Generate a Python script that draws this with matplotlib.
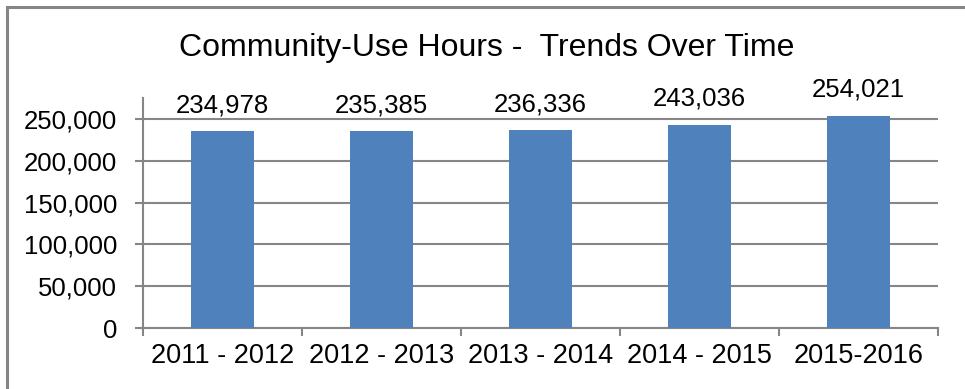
import matplotlib.pyplot as plt
from matplotlib.lines import Line2D

categories = ["2011 - 2012", "2012 - 2013", "2013 - 2014", "2014 - 2015", "2015-2016"]
hours = [234978, 235385, 236336, 243036, 254021]
yticks = [0, 50000, 100000, 150000, 200000, 250000]

plt.rcParams["font.family"] = ["Liberation Sans", "DejaVu Sans"]

fig = plt.figure(figsize=(9.65, 3.89), dpi=100)
ax = fig.add_axes([143 / 965, 61 / 389, (938 - 143) / 965, (291 - 61) / 389])

x = list(range(len(categories)))
ax.bar(x, hours, width=0.4, color="#4F81BD", zorder=3)

for xi, v in zip(x, hours):
    ax.annotate(f"{v:,}", (xi, v), xytext=(0, 10), textcoords="offset points",
                ha="center", va="bottom", fontsize=18.5)

ax.set_xlim(-0.5, len(categories) - 0.5)
ax.set_ylim(0, 275000)
ax.set_yticks(yticks)
ax.set_yticklabels([f"{t:,}" for t in yticks], fontsize=18.5)
ax.set_xticks(x)
ax.set_xticklabels(categories, fontsize=19.5)
ax.set_xticks([i - 0.5 for i in range(len(categories) + 1)], minor=True)

ax.tick_params(axis="x", which="major", length=0, pad=11)
ax.tick_params(axis="x", which="minor", length=5.5, width=1.5, color="#868686")
ax.tick_params(axis="y", length=5.5, width=1.5, color="#868686", pad=13)

ax.grid(axis="y", color="#868686", linewidth=1.5, zorder=0)
for s in ["top", "right"]:
    ax.spines[s].set_visible(False)
for s in ["left", "bottom"]:
    ax.spines[s].set_color("#868686")
    ax.spines[s].set_linewidth(1.5)

fig.text(486.5 / 965, 1 - 48 / 389, "Community-Use Hours -  Trends Over Time",
         ha="center", va="center", fontsize=23)

# chart border (cropped: only left and top edges visible)
fig.add_artist(Line2D([7 / 965, 7 / 965], [0, 1 - 7 / 389], color="#868686", linewidth=2.2))
fig.add_artist(Line2D([7 / 965, 1], [1 - 7 / 389, 1 - 7 / 389], color="#868686", linewidth=2.2))

fig.savefig("out.png", dpi=100)
